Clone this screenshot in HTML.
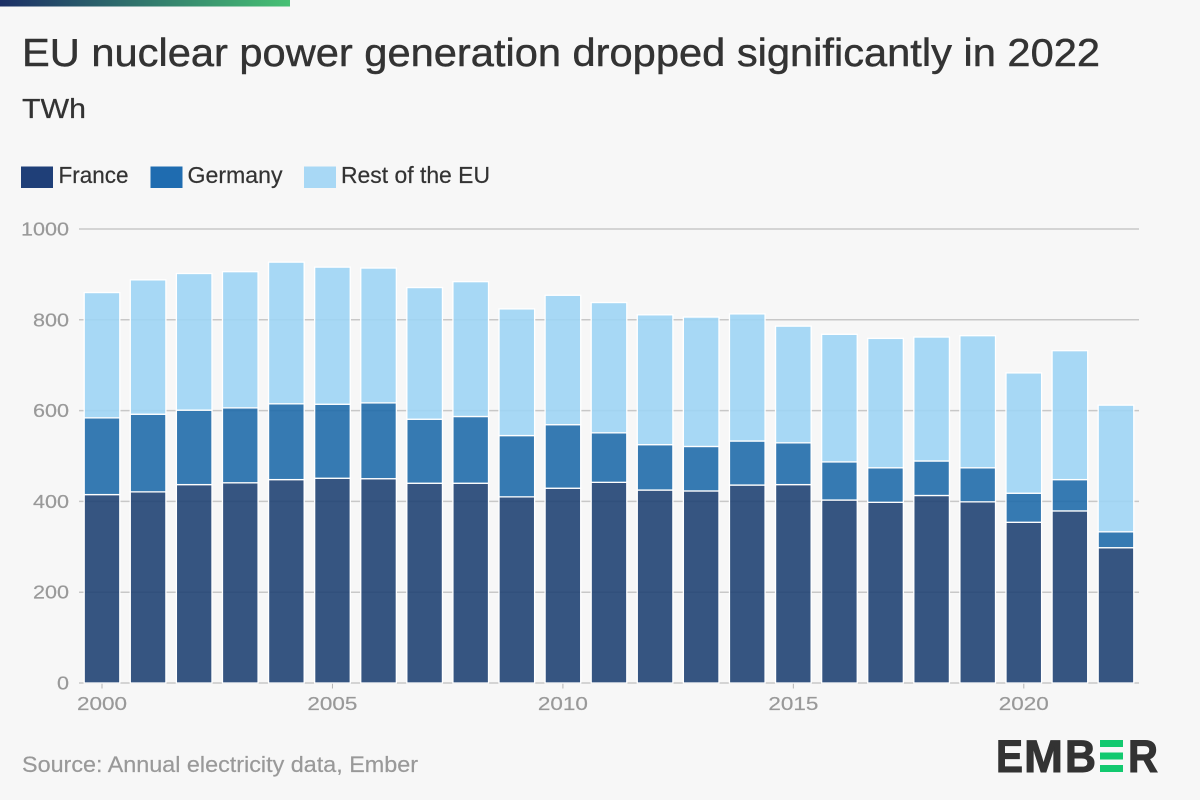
<!DOCTYPE html>
<html lang="en">
<head>
<meta charset="utf-8">
<title>EU nuclear power generation dropped significantly in 2022</title>
<style>
html,body{margin:0;padding:0;background:#f7f7f7;}
svg{display:block;font-family:"Liberation Sans",sans-serif;}
</style>
</head>
<body>
<svg id="chart" xmlns="http://www.w3.org/2000/svg" width="1200" height="800" viewBox="0 0 1200 800">
  <defs>
    <linearGradient id="topGrad" x1="0" x2="1" y1="0" y2="0">
      <stop offset="0" stop-color="#1c2f66"/>
      <stop offset="1" stop-color="#47c174"/>
    </linearGradient>
  </defs>
  <rect x="0" y="0" width="1200" height="800" fill="#f7f7f7"/>
  <rect x="0" y="0" width="290" height="6.5" fill="url(#topGrad)"/>
  <text x="22" y="66" font-size="39" fill="#333333" stroke="#333333" stroke-width="0.45" textLength="1078" lengthAdjust="spacingAndGlyphs">EU nuclear power generation dropped significantly in 2022</text>
  <text x="22" y="118" font-size="28" fill="#333333" stroke="#333333" stroke-width="0.25" textLength="64" lengthAdjust="spacingAndGlyphs">TWh</text>

  <g>
    <g>
      <rect x="21" y="166.5" width="32" height="21.5" fill="#1f3f78"/>
      <text x="58.5" y="183" font-size="23" fill="#333333" stroke="#333333" stroke-width="0.2" textLength="70" lengthAdjust="spacingAndGlyphs">France</text>
    </g>
    <g>
      <rect x="150.5" y="166.5" width="32" height="21.5" fill="#1f6cb0"/>
      <text x="187.5" y="183" font-size="23" fill="#333333" stroke="#333333" stroke-width="0.2" textLength="95" lengthAdjust="spacingAndGlyphs">Germany</text>
    </g>
    <g>
      <rect x="304" y="166.5" width="32" height="21.5" fill="#a8d8f5"/>
      <text x="341" y="183" font-size="23" fill="#333333" stroke="#333333" stroke-width="0.2" textLength="149" lengthAdjust="spacingAndGlyphs">Rest of the EU</text>
    </g>
  </g>

  <g id="grid"></g>
  <g id="yLabels"></g>
  <g id="xAxis"></g>
  <g id="bars"></g>

  <text x="22" y="772" font-size="22.5" fill="#999999" stroke="#999999" stroke-width="0.2" textLength="396" lengthAdjust="spacingAndGlyphs">Source: Annual electricity data, Ember</text>

  <g font-weight="700" fill="#333333" stroke="#333333" stroke-width="1">
    <title>EMBER</title>
    <text x="996" y="772" font-size="45" textLength="27" lengthAdjust="spacingAndGlyphs">E</text>
    <text x="1024" y="772" font-size="45" textLength="39" lengthAdjust="spacingAndGlyphs">M</text>
    <text x="1065" y="772" font-size="45" textLength="31" lengthAdjust="spacingAndGlyphs">B</text>
    <rect x="1100" y="740" width="23" height="7" fill="#12c96f" stroke="none"/>
    <rect x="1100" y="752.5" width="23" height="7" fill="#12c96f" stroke="none"/>
    <rect x="1100" y="765" width="23" height="7" fill="#12c96f" stroke="none"/>
    <text x="1128" y="772" font-size="45" textLength="30" lengthAdjust="spacingAndGlyphs">R</text>
  </g>
</svg>
<script>
const years = [2000,2001,2002,2003,2004,2005,2006,2007,2008,2009,2010,2011,2012,2013,2014,2015,2016,2017,2018,2019,2020,2021,2022];
const france = [415,421,437,441,448,451,450,440,440,410,429,442,425,423,436,437,403,398,413,399,354,379,298];
const germany = [169,171,164,165,167,163,167,141,147,135,140,109,100,98,97,92,84,76,76,75,64,69,35];
const restOfEu = [276,296,301,300,312,302,297,290,297,279,285,287,286,285,280,257,281,285,273,291,265,284,279];
const yTicks = [0,200,400,600,800,1000];
const xTicks = [2000,2005,2010,2015,2020];

const NS = 'http://www.w3.org/2000/svg';
const yScale = function (v) { return 683 - v * 0.454; };
const xScale = function (year) { return 102 + (year - 2000) * 46.09; };
const barWidth = 35.6;

function make(tag, parent, props) {
  const el = document.createElementNS(NS, tag);
  for (const k in props) el.setAttribute(k, props[k]);
  parent.appendChild(el);
  return el;
}

const grid = document.getElementById('grid');
const yLabels = document.getElementById('yLabels');
yTicks.forEach(function (t) {
  const line = make('line', grid, {x1: 79, x2: 1139, y1: yScale(t), y2: yScale(t), stroke: '#c8c8c8', 'stroke-width': 1.5});
  
  
  const label = make('text', yLabels, {x: 69, y: yScale(t) + 6.5, 'text-anchor': 'end', 'font-size': 18.5, fill: '#999999', stroke: '#999999', 'stroke-width': 0.2, textLength: String(t).length * 12, lengthAdjust: 'spacingAndGlyphs'});
  
  
  label.textContent = t;
});

const xAxis = document.getElementById('xAxis');
xTicks.forEach(function (y) {
  const tick = make('line', xAxis, {x1: xScale(y), x2: xScale(y), y1: 683, y2: 688.5, stroke: '#b5b5b5', 'stroke-width': 1});
  
  
  const label = make('text', xAxis, {x: xScale(y) - 25, y: 710, 'font-size': 18.5, fill: '#999999', stroke: '#999999', 'stroke-width': 0.2, textLength: 50, lengthAdjust: 'spacingAndGlyphs'});
  
  
  label.textContent = y;
});

const barsGroup = document.getElementById('bars');
const seriesList = [
  {key: 'france', values: france, fill: '#204273'},
  {key: 'germany', values: germany, fill: '#206caa'},
  {key: 'rest-of-eu', values: restOfEu, fill: '#9dd4f4'}
];
years.forEach(function (year, i) {
  let base = 0;
  seriesList.forEach(function (s) {
    const top = base + s.values[i];
    const rect = make('rect', barsGroup, {
      x: xScale(year) - barWidth / 2,
      y: yScale(top),
      width: barWidth,
      height: yScale(base) - yScale(top),
      fill: s.fill,
      'fill-opacity': 0.9,
      stroke: '#ffffff',
      'stroke-width': 1.3
    });
    
    
    base = top;
  });
});
</script>
</body>
</html>
